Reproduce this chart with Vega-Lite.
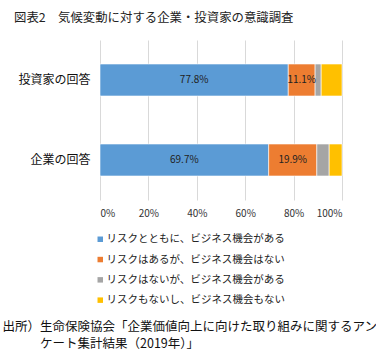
{
  "$schema": "https://vega.github.io/schema/vega-lite/v6.json",
  "width": 242,
  "height": 160,
  "autosize": {"type": "none"},
  "padding": {"left": 100, "top": 40, "right": 34, "bottom": 153},
  "background": "white",
  "config": {
    "font": "Noto Sans CJK JP",
    "view": {"stroke": null}
  },
  "title": {
    "text": "図表2　気候変動に対する企業・投資家の意識調査",
    "anchor": "start",
    "frame": "group",
    "dx": -86,
    "offset": 16,
    "fontSize": 12.4,
    "fontWeight": "normal",
    "color": "#222"
  },
  "data": {
    "values": [
      {"group": "投資家の回答", "cat": "リスクとともに、ビジネス機会がある", "value": 77.8, "o": 1, "label": "77.8%"},
      {"group": "投資家の回答", "cat": "リスクはあるが、ビジネス機会はない", "value": 11.1, "o": 2, "label": "11.1%"},
      {"group": "投資家の回答", "cat": "リスクはないが、ビジネス機会がある", "value": 2.5, "o": 3, "label": ""},
      {"group": "投資家の回答", "cat": "リスクもないし、ビジネス機会もない", "value": 8.6, "o": 4, "label": ""},
      {"group": "企業の回答", "cat": "リスクとともに、ビジネス機会がある", "value": 69.7, "o": 1, "label": "69.7%"},
      {"group": "企業の回答", "cat": "リスクはあるが、ビジネス機会はない", "value": 19.9, "o": 2, "label": "19.9%"},
      {"group": "企業の回答", "cat": "リスクはないが、ビジネス機会がある", "value": 5.1, "o": 3, "label": ""},
      {"group": "企業の回答", "cat": "リスクもないし、ビジネス機会もない", "value": 5.3, "o": 4, "label": ""}
    ]
  },
  "transform": [
    {"stack": "value", "groupby": ["group"], "sort": [{"field": "o", "order": "ascending"}], "as": ["x0", "x1"]},
    {"calculate": "(datum.x0 + datum.x1) / 2", "as": "mid"}
  ],
  "encoding": {
    "y": {
      "field": "group",
      "type": "nominal",
      "sort": ["投資家の回答", "企業の回答"],
      "scale": {"paddingInner": 0.6, "paddingOuter": 0.3},
      "axis": {
        "title": null,
        "domain": false,
        "ticks": false,
        "labelPadding": 10,
        "labelFontSize": 12,
        "labelColor": "#111",
        "grid": false
      }
    }
  },
  "layer": [
    {
      "mark": {"type": "bar", "stroke": "white", "strokeWidth": 0.6},
      "encoding": {
        "x": {
          "field": "x0",
          "type": "quantitative",
          "scale": {"domain": [0, 100], "nice": false},
          "axis": {
            "values": [0, 20, 40, 60, 80, 100],
            "labelExpr": "datum.value + '%'",
            "domain": false,
            "ticks": false,
            "grid": true,
            "gridColor": "#D9D9D9",
            "gridWidth": 1,
            "labelFontSize": 10,
            "labelColor": "#333",
            "labelPadding": 8,
            "title": ["出所）生命保険協会「企業価値向上に向けた取り組みに関するアン", "\u200B　　　ケート集計結果（2019年）」"],
            "titleX": -98,
            "titleY": 120,
            "titleAlign": "left",
            "titleAnchor": "start",
            "titleBaseline": "top",
            "titleFontSize": 12.5,
            "titleFontWeight": "normal",
            "titleColor": "#111",
            "titleLineHeight": 17
          }
        },
        "x2": {"field": "x1"},
        "color": {
          "field": "cat",
          "type": "nominal",
          "sort": ["リスクとともに、ビジネス機会がある", "リスクはあるが、ビジネス機会はない", "リスクはないが、ビジネス機会がある", "リスクもないし、ビジネス機会もない"],
          "scale": {"range": ["#5B9BD5", "#ED7D31", "#A5A5A5", "#FFC000"]},
          "legend": {
            "orient": "none",
            "legendX": -5,
            "legendY": 194,
            "title": null,
            "padding": 0,
            "symbolType": "square",
            "symbolSize": 30,
            "symbolStrokeWidth": 0,
            "labelFontSize": 10.5,
            "labelColor": "#222",
            "labelOffset": 1,
            "rowPadding": 9.3,
            "labelLimit": 300
          }
        }
      }
    },
    {
      "mark": {"type": "text", "fontSize": 10, "color": "#222"},
      "encoding": {
        "x": {"field": "mid", "type": "quantitative"},
        "text": {"field": "label"}
      }
    }
  ]
}
